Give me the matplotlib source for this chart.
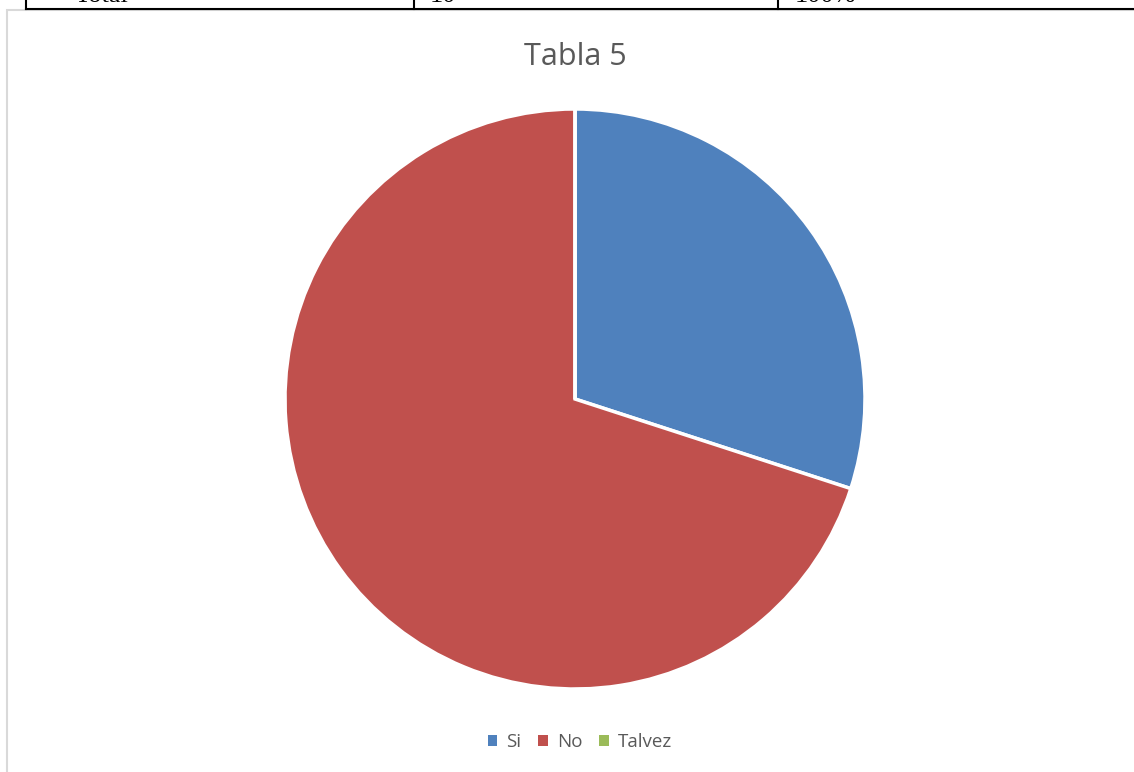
import matplotlib
matplotlib.use("Agg")
import matplotlib.pyplot as plt
from matplotlib.patches import Rectangle
from matplotlib.lines import Line2D

categories = ["Si", "No", "Talvez"]
values = [3, 7, 0]
colors = ["#4F81BD", "#C0504D", "#9BBB59"]
table_cells = ["Total", "10", "100%"]

W, H = 1134, 772
fig = plt.figure(figsize=(W / 100, H / 100), dpi=100)
fig.patch.set_facecolor("white")

# chart frame (light gray border, cut off at right/bottom)
fig.patches.append(Rectangle((7 / W, -0.01), 1.2, 1 - 10 / H + 0.01,
                             transform=fig.transFigure, facecolor="white",
                             edgecolor="#D9D9D9", linewidth=1.5, zorder=-5))

# remnant of the table above the chart
fig.add_artist(Line2D([26 / W, 1.0], [1 - 9 / H, 1 - 9 / H], color="black", lw=1.5))
for xv in (26, 414, 778):
    fig.add_artist(Line2D([xv / W, xv / W], [1 - 9 / H, 1.0], color="black", lw=1.5))
for xv, txt in zip((75, 430, 795), table_cells):
    fig.text(xv / W, 1 - 2 / H, txt, family="Liberation Serif", fontsize=19,
             va="baseline", ha="left", color="black")

fig.text(575 / W, 1 - 57 / H, "Tabla 5", family="Open Sans", fontsize=22,
         ha="center", va="center", color="#595959")

r = 290
ax = fig.add_axes([(575 - r) / W, 1 - (399 + r) / H, 2 * r / W, 2 * r / H])
ax.pie(values, colors=colors, startangle=90, counterclock=False,
       wedgeprops=dict(edgecolor="white", linewidth=2.5))
ax.set_xlim(-1, 1)
ax.set_ylim(-1, 1)
ax.set_aspect("equal")
ax.axis("off")

handles = [Rectangle((0, 0), 1, 1, facecolor=c) for c in colors]
fig.legend(handles, categories, loc="center", bbox_to_anchor=(580 / W, 1 - 742 / H),
           ncol=3, frameon=False, prop={"family": "Open Sans", "size": 13.5},
           labelcolor="#595959", handlelength=0.5, handleheight=0.5,
           handletextpad=0.5, columnspacing=0.9)

fig.savefig("out.png", dpi=100)
